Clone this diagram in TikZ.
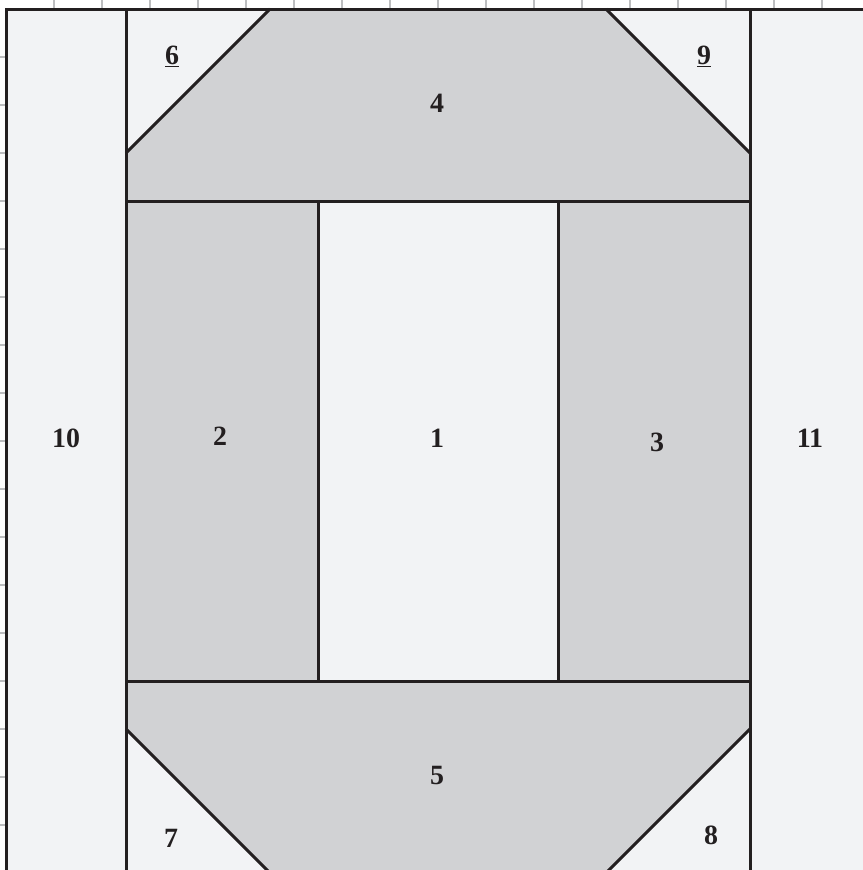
\documentclass[tikz,border=0pt]{standalone}
\usepackage{fontspec}
\setmainfont{Liberation Serif}
\definecolor{lightfill}{HTML}{F2F3F5}
\definecolor{grayfill}{HTML}{D1D2D4}
\definecolor{inkline}{HTML}{231F20}
\definecolor{tickgray}{HTML}{BDBEC0}
\begin{document}
\begin{tikzpicture}[x=1bp,y=-1bp,
  seam/.style={draw=inkline,line width=3bp,line join=miter},
  tick/.style={draw=tickgray,line width=1.6bp},
  lbl/.style={font=\fontsize{28}{30}\selectfont\bfseries,inner sep=0pt,text=inkline}]
\useasboundingbox (0,0) rectangle (863,870);
\fill[white] (0,0) rectangle (863,870);
\begin{scope}
\clip (0,0) rectangle (863,870);
% ticks
\foreach \k in {1,...,17} {
  \draw[tick] (6+48*\k,0) -- (6+48*\k,9);
  \draw[tick] (0,9+48*\k) -- (6,9+48*\k);
}
% background
\fill[lightfill] (6,9) rectangle (870,880);
% gray pieces
\fill[grayfill] (270,9) -- (606,9) -- (750,153) -- (750,201) -- (126,201) -- (126,153) -- cycle;
\fill[grayfill] (126,681) -- (750,681) -- (750,729) -- (606,873) -- (270,873) -- (126,729) -- cycle;
\fill[grayfill] (126,201) rectangle (318,681);
\fill[grayfill] (558,201) rectangle (750,681);
% seams
\draw[seam] (6,880) -- (6,9) -- (870,9);
\draw[seam] (126,9) -- (126,880);
\draw[seam] (750,9) -- (750,880);
\draw[seam] (126,201) -- (750,201);
\draw[seam] (126,681) -- (750,681);
\draw[seam] (318,201) -- (318,681);
\draw[seam] (558,201) -- (558,681);
\draw[seam] (270,9) -- (126,153);
\draw[seam] (606,9) -- (750,153);
\draw[seam] (126,729) -- (270,873);
\draw[seam] (750,729) -- (606,873);
\end{scope}
% labels
\node[lbl] (n1) at (437,438) {1};
\node[lbl] (n2) at (220,436) {2};
\node[lbl] (n3) at (657,442) {3};
\node[lbl] (n4) at (437,103) {4};
\node[lbl] (n5) at (437,775) {5};
\node[lbl] (n6) at (172,56) {\underline{6}};
\node[lbl] (n7) at (171,838) {7};
\node[lbl] (n8) at (711,835) {8};
\node[lbl] (n9) at (704,56) {\underline{9}};
\node[lbl] (n10) at (66,438) {10};
\node[lbl] (n11) at (810,438) {11};
\end{tikzpicture}
\end{document}
